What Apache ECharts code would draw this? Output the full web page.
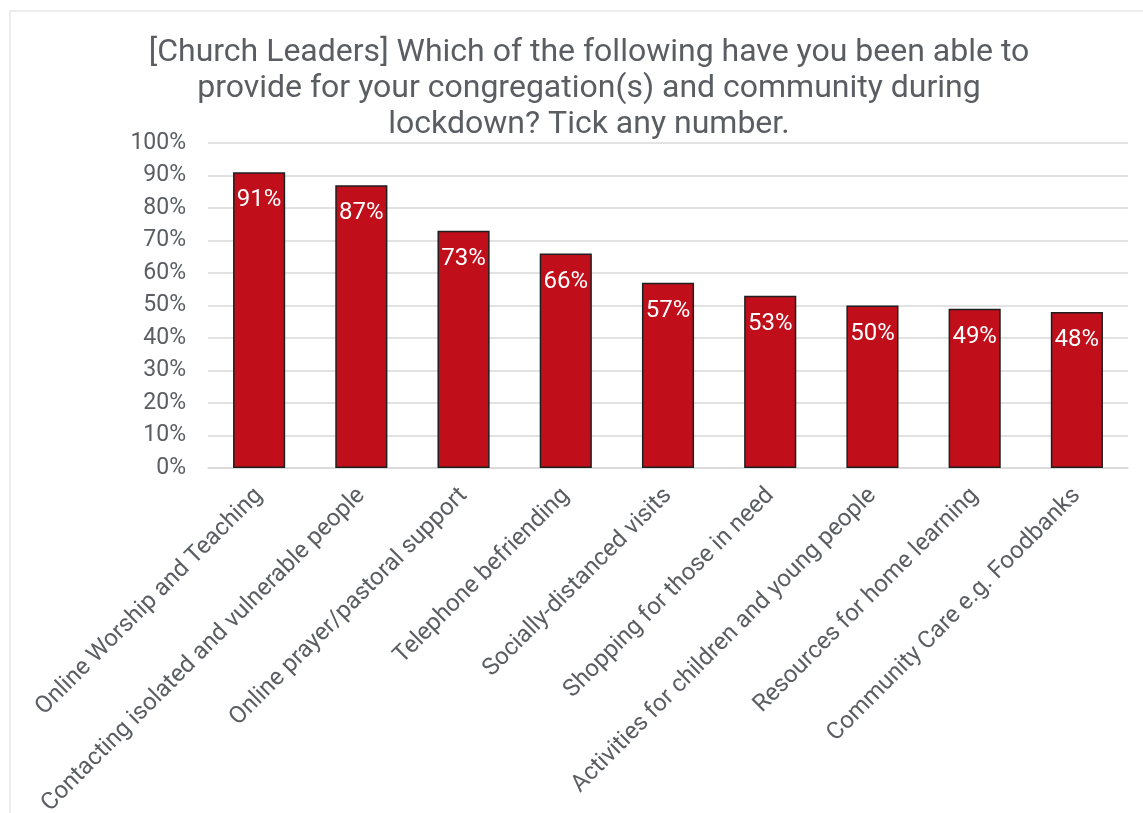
<!DOCTYPE html>
<html>
<head>
<meta charset="utf-8">
<script src="https://cdn.jsdelivr.net/npm/echarts@6/dist/echarts.min.js"></script>
<style>
  html, body { margin: 0; padding: 0; background: #fff; }
  #chart { width: 1143px; height: 813px; }
</style>
</head>
<body>
<div id="chart"></div>
<script>
// Survey question and answer categories
const titleText = '[Church Leaders] Which of the following have you been able to\nprovide for your congregation(s) and community during\nlockdown? Tick any number.';
const categories = [
  'Online Worship and Teaching',
  'Contacting isolated and vulnerable people',
  'Online prayer/pastoral support',
  'Telephone befriending',
  'Socially-distanced visits',
  'Shopping for those in need',
  'Activities for children and young people',
  'Resources for home learning',
  'Community Care e.g. Foodbanks'
];
// Share of church leaders (%)
const values = [91, 87, 73, 66, 57, 53, 50, 49, 48];

const textGray = '#5a5d62';
const font = 'Roboto, Liberation Sans, Arial, sans-serif';

const chart = echarts.init(document.getElementById('chart'));
chart.setOption({
  animation: false,
  backgroundColor: '#fff',
  graphic: [{
    type: 'rect',
    shape: { x: 10, y: 11, width: 1200, height: 900 },
    style: { fill: 'none', stroke: '#d9d9d9', lineWidth: 1 },
    silent: true,
    z: -1
  }, {
    // chart title, centred over the plot area
    type: 'text',
    x: 589,
    y: 35,
    silent: true,
    style: {
      text: titleText,
      fill: textGray,
      font: '32px ' + font,
      lineHeight: 36,
      align: 'center',
      verticalAlign: 'top'
    }
  }],
  grid: {
    left: 208, right: 15, top: 143, bottom: 345,
    containLabel: false,
    outerBoundsMode: 'none'
  },
  xAxis: {
    type: 'category',
    data: categories,
    axisLine: { lineStyle: { color: '#d9d9d9', width: 1.5 } },
    axisTick: { show: false },
    axisLabel: {
      interval: 0,
      rotate: 45,
      color: textGray,
      fontFamily: font,
      fontSize: 24,
      margin: 24
    }
  },
  yAxis: {
    type: 'value',
    min: 0,
    max: 100,
    interval: 10,
    axisLine: { show: false },
    axisTick: { show: false },
    splitLine: { lineStyle: { color: '#d9d9d9', width: 1.5 } },
    axisLabel: {
      formatter: '{value}%',
      color: textGray,
      fontFamily: font,
      fontSize: 23,
      margin: 22
    }
  },
  series: [{
    type: 'bar',
    data: values,
    barWidth: '51%',
    itemStyle: { color: '#C00E1A', borderColor: '#1f1f1f', borderWidth: 1.5 },
    label: {
      show: true,
      position: 'insideTop',
      distance: 16,
      formatter: '{c}%',
      color: '#fff',
      fontFamily: font,
      fontSize: 24
    }
  }]
});
</script>
</body>
</html>
